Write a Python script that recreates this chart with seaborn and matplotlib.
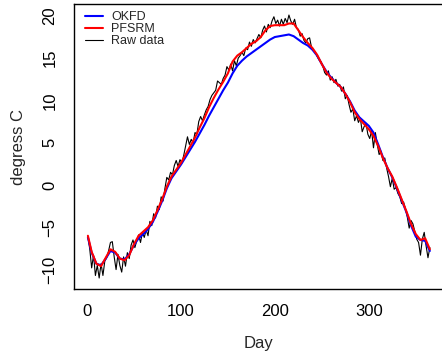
import numpy as np
import pandas as pd
import matplotlib
matplotlib.use("Agg")
import matplotlib.pyplot as plt
import seaborn as sns

# Daily temperature: raw data (every 2nd day) and two smooth fits (every 5th day)
raw_days = np.arange(1, 366, 2)
raw_temp = [
    -6.1, -7.6, -9.8, -8.3, -10.7, -9.5, -11.0, -9.3, -10.7, -9.0,
    -8.6, -7.8, -6.8, -6.7, -8.5, -10.0, -8.2, -9.5, -10.3, -8.5,
    -9.6, -8.0, -8.7, -7.1, -6.5, -7.4, -6.6, -5.9, -6.8, -5.6,
    -6.2, -5.3, -6.0, -4.3, -4.8, -3.4, -3.9, -2.5, -2.9, -1.4,
    -1.9, -0.4, 0.9, 0.6, 1.5, 1.2, 2.3, 2.9, 2.2, 3.0,
    2.6, 3.5, 4.6, 5.7, 4.8, 5.4, 5.0, 6.2, 6.0, 7.5,
    8.1, 7.6, 8.3, 8.9, 9.3, 10.1, 10.6, 10.9, 11.2, 12.3,
    12.1, 11.9, 12.6, 13.0, 14.0, 13.6, 14.3, 13.5, 14.7, 14.1,
    15.0, 15.3, 15.7, 15.3, 16.2, 16.0, 16.9, 16.4, 17.2, 16.8,
    17.3, 17.8, 17.4, 18.3, 18.8, 18.1, 19.0, 18.6, 19.4, 19.9,
    19.1, 19.5, 18.8, 19.6, 19.0, 19.7, 19.2, 20.1, 19.4, 19.0,
    19.6, 18.6, 18.4, 17.6, 17.9, 17.1, 16.8, 17.3, 17.4, 16.3,
    16.0, 15.7, 15.2, 14.8, 14.6, 14.1, 13.3, 13.0, 13.5, 12.4,
    12.8, 12.1, 12.5, 11.7, 11.9, 11.1, 11.6, 10.2, 10.6, 9.5,
    8.6, 9.0, 7.6, 8.2, 7.4, 7.9, 6.3, 6.9, 7.3, 6.0,
    5.5, 6.4, 4.4, 6.2, 4.8, 3.6, 4.0, 2.9, 3.2, 2.0,
    1.0, -0.2, 0.8, -0.5, -0.3, -1.0, -1.4, -2.2, -2.0, -2.8,
    -3.8, -5.1, -4.2, -4.6, -5.5, -6.4, -6.8, -8.3, -6.4, -5.6,
    -7.2, -8.6, -7.4,
]

fit_days = [1] + list(range(5, 366, 5))
pfsrm = [
    -6.0, -7.9, -9.3, -9.6, -8.6, -7.6, -7.9, -8.7, -8.9, -8.3,
    -7.0, -6.0, -5.5, -5.0, -4.2, -3.0, -1.7, -0.2, 1.0, 1.8,
    2.6, 3.6, 4.6, 5.6, 6.8, 7.9, 9.2, 10.3, 11.3, 12.2,
    13.2, 14.6, 15.3, 15.7, 16.2, 16.7, 17.0, 17.5, 18.3, 18.8,
    18.9, 18.9, 18.9, 19.1, 19.1, 18.3, 17.5, 16.8, 16.2, 15.4,
    14.3, 13.3, 12.6, 12.1, 11.6, 10.8, 9.8, 8.6, 7.8, 7.2,
    6.6, 5.8, 4.6, 3.2, 2.0, 1.0, -0.3, -1.7, -3.1, -4.6,
    -5.8, -6.5, -6.3, -7.6,
]
okfd = [
    -6.2, -8.0, -9.3, -9.5, -8.7, -7.8, -8.0, -8.7, -8.8, -8.2,
    -7.1, -6.3, -5.8, -5.2, -4.4, -3.2, -1.9, -0.4, 0.8, 1.6,
    2.4, 3.3, 4.2, 5.1, 6.1, 7.1, 8.2, 9.2, 10.2, 11.2,
    12.1, 13.2, 14.1, 14.7, 15.2, 15.6, 16.0, 16.4, 16.8, 17.2,
    17.5, 17.6, 17.7, 17.8, 17.6, 17.2, 16.8, 16.5, 16.0, 15.3,
    14.3, 13.4, 12.7, 12.1, 11.6, 10.8, 9.9, 8.8, 8.0, 7.5,
    7.0, 6.2, 4.8, 3.3, 2.0, 0.9, -0.4, -1.8, -3.2, -4.8,
    -6.1, -6.5, -6.6, -7.8,
]

raw = pd.DataFrame({"Day": raw_days, "temp": raw_temp})
fits = pd.DataFrame({"Day": fit_days, "OKFD": okfd, "PFSRM": pfsrm})

sns.set_style("white")
plt.rcParams["font.family"] = ["Liberation Sans", "DejaVu Sans"]

fig = plt.figure(figsize=(4.42, 3.58), dpi=100)
ax = fig.add_axes([0.1674, 0.1927, 0.837, 0.796])

sns.lineplot(data=raw, x="Day", y="temp", color="black", lw=0.8, ax=ax, label="Raw data")
sns.lineplot(data=fits, x="Day", y="OKFD", color="blue", lw=1.5, ax=ax, label="OKFD")
sns.lineplot(data=fits, x="Day", y="PFSRM", color="red", lw=1.5, ax=ax, label="PFSRM")

ax.set_xlim(-13.8, 380)
ax.set_ylim(-12.3, 21.4)
ax.set_xticks([0, 100, 200, 300])
ax.set_yticks([-10, -5, 0, 5, 10, 15, 20])
ax.tick_params(axis="both", direction="out", length=5, width=0.8, colors="black", labelsize=12)
ax.tick_params(axis="x", pad=6)
ax.tick_params(axis="y", pad=7)
plt.setp(ax.get_yticklabels(), rotation=90, va="center")
for sp in ax.spines.values():
    sp.set_color("black")
    sp.set_linewidth(1.0)
ax.spines["right"].set_visible(False)

ax.set_xlabel("Day", fontsize=12, labelpad=12)
ax.set_ylabel("degress C", fontsize=12, labelpad=12)

handles, labels = ax.get_legend_handles_labels()
order = [labels.index(k) for k in ["OKFD", "PFSRM", "Raw data"]]
ax.legend([handles[i] for i in order], [labels[i] for i in order],
          loc="upper left", bbox_to_anchor=(0.01, 1.0), frameon=False,
          fontsize=9, handlelength=1.45, handletextpad=0.7, labelspacing=0.02,
          borderaxespad=0.15)

fig.savefig("out.png", dpi=100)
